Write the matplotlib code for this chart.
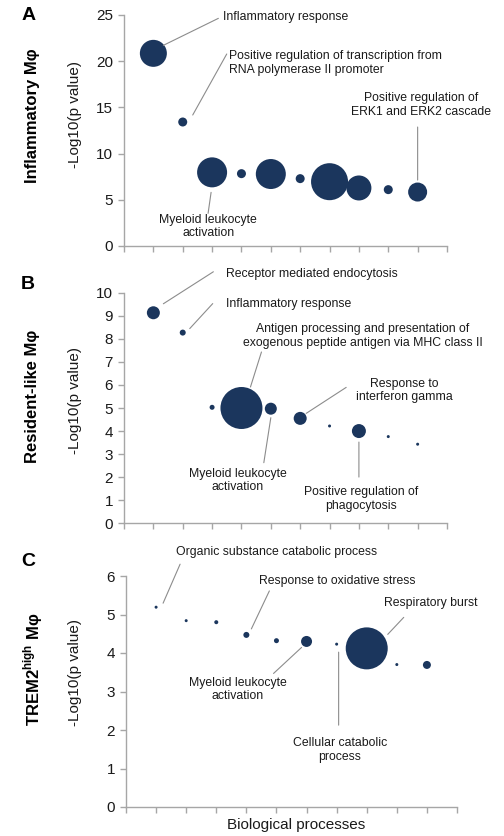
import matplotlib
matplotlib.use("Agg")
import matplotlib.pyplot as plt
import numpy as np

plt.rcParams['font.family'] = ['Liberation Sans', 'DejaVu Sans']
plt.rcParams['mathtext.fontset'] = 'custom'
plt.rcParams['mathtext.rm'] = 'Liberation Sans'
plt.rcParams['mathtext.bf'] = 'Liberation Sans:bold'

DOT = '#1b365d'
AXIS = '#a6a6a6'
LEAD = '#8c8c8c'

# Enrichment of biological processes per macrophage subset
x_pos = list(range(1, 11))

inflam_logp = [20.85, 13.42, 7.97, 7.83, 7.79, 7.29, 6.96, 6.28, 6.10, 5.84]
inflam_size = [27, 9, 30, 9, 30, 9, 37, 25, 9, 19]

resident_logp = [9.13, 8.27, 5.03, 5.00, 4.97, 4.55, 4.22, 4.00, 3.76, 3.43]
resident_size = [13, 6, 5, 42, 12, 13, 3, 14, 3, 3]

trem2_logp = [5.19, 4.84, 4.80, 4.47, 4.32, 4.30, 4.23, 4.12, 3.70, 3.69]
trem2_size = [3, 3, 4, 6, 5, 11, 3, 42, 3, 8]

# (point index, text, line start offset, line end offset, text offset, ha)
inflam_notes = [
    (0, 'Inflammatory response', (10, 8), (65, 35), (70, 36), 'left'),
    (1, 'Positive regulation of transcription from\nRNA polymerase II promoter',
     (10, 7), (44, 68), (46, 59), 'left'),
    (2, 'Myeloid leukocyte\nactivation', (-1, -20), (-4, -41), (-4, -54), 'center'),
    (9, 'Positive regulation of\nERK1 and ERK2 cascade', (0, 12), (0, 65), (3, 87), 'center'),
]
resident_notes = [
    (0, 'Receptor mediated endocytosis', (10, 9), (60, 41), (73, 39), 'left'),
    (1, 'Inflammatory response', (7, 4), (30, 29), (43, 29), 'left'),
    (3, 'Antigen processing and presentation of\nexogenous peptide antigen via MHC class II',
     (9, 21), (20, 56), (121, 72), 'center'),
    (4, 'Myeloid leukocyte\nactivation', (0, -9), (-7, -54), (-33, -72), 'center'),
    (5, 'Response to\ninterferon gamma', (6, 5), (46, 31), (104, 28), 'center'),
    (7, 'Positive regulation of\nphagocytosis', (0, -11), (0, -46), (2, -68), 'center'),
]
trem2_notes = [
    (0, 'Organic substance catabolic process', (7, 4), (24, 43), (20, 55), 'left'),
    (3, 'Response to oxidative stress', (5, 6), (23, 44), (13, 54), 'left'),
    (7, 'Respiratory burst', (21, 14), (37, 31), (17, 45), 'left'),
    (5, 'Myeloid leukocyte\nactivation', (-5, -6), (-33, -32), (-69, -48), 'center'),
    (6, 'Cellular catabolic\nprocess', (2, -8), (2, -81), (3, -106), 'center'),
]

PHI = '\u03c6'
panels = [
    dict(rect=[124/504, 1-246/836, 323/504, 231/836], y=inflam_logp, s=inflam_size,
         ymax=25, step=5, notes=inflam_notes, letter='A', name='Inflammatory M' + PHI,
         letter_xy=(29, 16), name_y=116, ylab_y=115),
    dict(rect=[124/504, 1-523.3/836, 323/504, 230.6/836], y=resident_logp, s=resident_size,
         ymax=10, step=1, notes=resident_notes, letter='B', name='Resident-like M' + PHI,
         letter_xy=(28, 285), name_y=396, ylab_y=400),
    dict(rect=[126/504, 1-807/836, 331/504, 231/836], y=trem2_logp, s=trem2_size,
         ymax=6, step=1, notes=trem2_notes, letter='C',
         name='TREM2$^{\\mathbf{high}}$ M' + PHI,
         letter_xy=(28, 562), name_y=669, ylab_y=672),
]

fig = plt.figure(figsize=(5.04, 8.36), dpi=100)
W, H = 504, 836

for p in panels:
    ax = fig.add_axes(p['rect'])
    sizes = [(d * 0.72) ** 2 for d in p['s']]
    ax.scatter(x_pos, p['y'], s=sizes, color=DOT, edgecolors='none', zorder=3)
    ax.set_xlim(0, 11)
    ax.set_ylim(0, p['ymax'])
    ax.set_xticks(np.arange(0, 12))
    ax.set_xticklabels([])
    ticks = np.arange(0, p['ymax'] + 0.01, p['step'])
    ax.set_yticks(ticks)
    ax.set_yticklabels([str(int(v)) for v in ticks])
    for side in ('top', 'right'):
        ax.spines[side].set_visible(False)
    for side in ('left', 'bottom'):
        ax.spines[side].set_color(AXIS)
        ax.spines[side].set_linewidth(1.0)
    ax.tick_params(axis='both', colors=AXIS, length=4, width=1.0, direction='out')
    ax.tick_params(axis='y', labelcolor='#1a1a1a', labelsize=11, pad=4)

    for idx, text, start, end, toff, ha in p['notes']:
        pt = (x_pos[idx], p['y'][idx])
        base = ax.transData.transform(pt)
        ax.annotate('', xy=base + np.array(start), xycoords='figure pixels',
                    xytext=base + np.array(end), textcoords='figure pixels',
                    arrowprops=dict(arrowstyle='-', color=LEAD, lw=0.8,
                                    shrinkA=0, shrinkB=0), annotation_clip=False)
        ax.annotate(text, xy=pt, xytext=toff, textcoords='offset pixels',
                    ha=ha, va='center', fontsize=8.8, color='#1a1a1a',
                    linespacing=1.15, annotation_clip=False, multialignment=ha)

    lx, ly = p['letter_xy']
    fig.text(lx / W, 1 - ly / H, p['letter'], fontsize=14, fontweight='bold',
             ha='center', va='center')
    fig.text(33 / W, 1 - p['name_y'] / H, p['name'], fontsize=12, fontweight='bold',
             rotation=90, ha='center', va='center')
    fig.text(75 / W, 1 - p['ylab_y'] / H, '-Log10(p value)', fontsize=11,
             rotation=90, ha='center', va='center', color='#1a1a1a')

fig.text(296 / W, 1 - 825 / H, 'Biological processes', fontsize=11,
         ha='center', va='center', color='#1a1a1a')

fig.savefig('out.png', dpi=100)
